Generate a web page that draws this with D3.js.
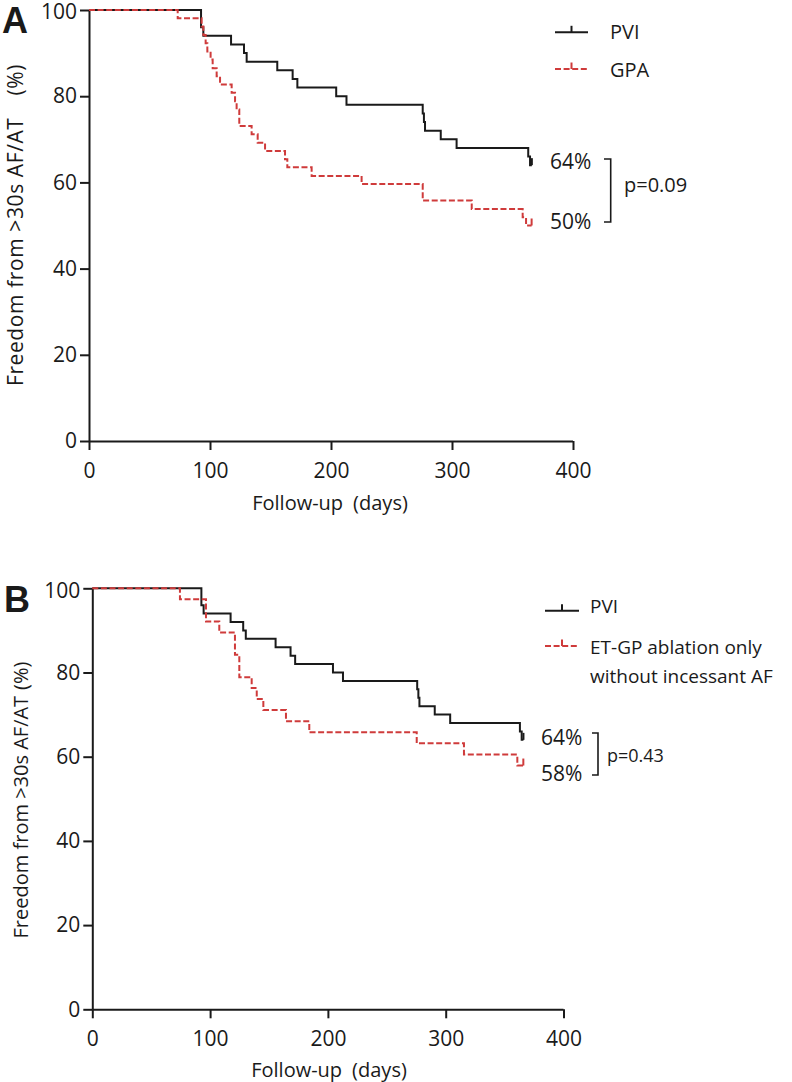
<!DOCTYPE html>
<html><head><meta charset="utf-8">
<script src="https://cdn.jsdelivr.net/npm/d3@7"></script>
<style>
html,body{margin:0;padding:0;background:#fff;}
svg text{font-family:"Open Sans","Noto Sans",sans-serif;fill:#1a1a1a;}
</style></head>
<body>
<svg id="chart" width="792" height="1082"></svg>
<script>
// ---------- DATA ----------
const xTicks = [0, 100, 200, 300, 400];
const yTicks = [0, 20, 40, 60, 80, 100];

// PVI (same cohort in both panels)
const pviTimes = [0, 92.6, 94.5, 117.4, 128.1, 130.3, 155.6, 168.3, 172.2, 204.3, 212.8, 275.8, 276.8, 277.7, 290.7, 303.8, 363.0, 364.5];
const pviSurv  = [100, 96, 94, 92, 90, 88, 86, 84, 82, 80, 78, 76, 74, 72, 70, 68, 66, 64];
const pviEnd = 366;

// GPA (panel A)
const gpaTimes = [0, 73.3, 93.1, 94.5, 96.4, 97.8, 100.5, 102.2, 105.5, 108.3, 117.9, 120.7, 122.0, 124.2, 134.4, 139.4, 145.5, 162.0, 163.9, 184.0, 225.3, 275.8, 316.3, 358.4, 361.2];
const gpaSurv  = [100, 98.1, 96.2, 94.2, 92.3, 90.4, 88.5, 86.5, 84.6, 82.7, 80.8, 78.8, 76.9, 73.1, 71.2, 69.2, 67.3, 65.4, 63.5, 61.5, 59.6, 55.8, 53.8, 51.9, 50.0];
const gpaEnd = 365.8;

// ET-GP ablation only without incessant AF (panel B)
const etgpTimes = [0, 74.4, 96.5, 107.8, 121.1, 124.8, 135.3, 139.6, 145.2, 164.4, 184.2, 275.4, 315.5, 360.8];
const etgpSurv  = [100, 97.4, 92.1, 89.5, 84.2, 78.9, 76.3, 73.7, 71.1, 68.4, 65.8, 63.2, 60.5, 57.9];
const etgpEnd = 365.9;

const panelALegend = ["PVI", "GPA"];
const panelBLegend = ["PVI", ["ET-GP ablation only", "without incessant AF"]];
const panelAEndLabels = ["64%", "50%"];
const panelBEndLabels = ["64%", "58%"];
const panelAP = "p=0.09";
const panelBP = "p=0.43";
const yTitleMain = "Freedom from >30s AF/AT";
const yTitleUnit = "(%)";
const xTitleMain = "Follow-up";
const xTitleUnit = "(days)";

// ---------- DRAW ----------
const svg = d3.select("#chart");
const BLACK = "#1a1a1a", RED = "#cf3b3b", DASH = "6,2.6";

function series(times, surv, end) {
  const pts = times.map((t, i) => ({t, s: surv[i]}));
  pts.push({t: end, s: surv[surv.length - 1]});
  return pts;
}

function panel(cfg) {
  const x = d3.scaleLinear().domain([0, 400]).range(cfg.xr);
  const y = d3.scaleLinear().domain([0, 100]).range(cfg.yr);
  const g = svg.append("g");

  const xa = g.append("g").attr("transform", `translate(0,${cfg.yr[0]})`)
    .call(d3.axisBottom(x).tickValues(xTicks).tickSize(9).tickPadding(13).tickSizeOuter(0));
  const ya = g.append("g").attr("transform", `translate(${cfg.xr[0]},0)`)
    .call(d3.axisLeft(y).tickValues(yTicks).tickSize(9).tickPadding(3).tickSizeOuter(0));
  [xa, ya].forEach(a => {
    a.selectAll("path,line").attr("stroke", BLACK).attr("stroke-width", 2);
    a.selectAll("text").attr("font-size", 21).attr("fill", "#1a1a1a")
      .style("font-family", '"Open Sans","Noto Sans",sans-serif');
  });
  ya.select(".domain").attr("d", `M0.5,${cfg.yr[0]}V${cfg.yr[1]}`);
  xa.select(".domain").attr("d", `M${cfg.xr[0]},0.5H${cfg.xr[1]}`);
  ya.selectAll(".tick text").filter(d => d === 100).attr("dy", "0.42em");

  const line = d3.line().x(d => x(d.t)).y(d => y(d.s)).curve(d3.curveStepAfter);
  cfg.curves.forEach(c => {
    const pts = series(c.times, c.surv, c.end);
    g.append("path").attr("d", line(pts)).attr("fill", "none")
      .attr("stroke", c.color).attr("stroke-width", 2)
      .attr("stroke-dasharray", c.dash || null);
    const last = pts[pts.length - 1];
    g.append("line").attr("x1", x(last.t)).attr("x2", x(last.t))
      .attr("y1", y(last.s)).attr("y2", y(last.s) - 7)
      .attr("stroke", c.color).attr("stroke-width", 2);
  });

  // panel letter
  g.append("text").attr("x", cfg.letterPos[0]).attr("y", cfg.letterPos[1])
    .text(cfg.letter).attr("font-size", 36).attr("font-weight", "bold")
    .style("font-family", '"Liberation Sans",Arial,sans-serif');

  // y title
  const yt = g.append("text")
    .attr("transform", `translate(${cfg.yTitle[0]},${cfg.yTitle[1]}) rotate(-90)`)
    .attr("text-anchor", "middle").attr("font-size", cfg.yTitleSize)
    .attr("letter-spacing", cfg.yTitleLS);
  yt.append("tspan").text(yTitleMain);
  yt.append("tspan").attr("dx", cfg.yTitleGap).text(yTitleUnit);

  // x title
  const xt = g.append("text").attr("x", cfg.xTitle[0]).attr("y", cfg.xTitle[1])
    .attr("text-anchor", "middle").attr("font-size", 20);
  xt.append("tspan").text(xTitleMain);
  xt.append("tspan").attr("dx", 10).text(xTitleUnit);

  // legend
  cfg.legend.forEach((lg, i) => {
    const ly = cfg.legendY[i];
    g.append("line").attr("x1", cfg.legendX[0]).attr("x2", cfg.legendX[1])
      .attr("y1", ly).attr("y2", ly).attr("stroke", lg.color).attr("stroke-width", 2)
      .attr("stroke-dasharray", lg.dash || null);
    const mx = (cfg.legendX[0] + cfg.legendX[1]) / 2;
    g.append("line").attr("x1", mx).attr("x2", mx).attr("y1", ly).attr("y2", ly - 6.5)
      .attr("stroke", lg.color).attr("stroke-width", 2);
    const labels = Array.isArray(lg.label) ? lg.label : [lg.label];
    labels.forEach((t, j) => {
      g.append("text").attr("x", cfg.legendTextX).attr("y", cfg.legendTextY[i] + j * cfg.legendLineH)
        .attr("font-size", cfg.legendSize).text(t);
    });
  });

  // end labels + bracket
  cfg.endLabels.forEach((t, i) => {
    g.append("text").attr("x", cfg.endX).attr("y", cfg.endY[i]).attr("font-size", 21).text(t);
  });
  const b = cfg.bracket;
  g.append("path").attr("d", `M${b.x0},${b.y0}H${b.x1}V${b.y1}H${b.x0}`)
    .attr("fill", "none").attr("stroke", BLACK).attr("stroke-width", 1.6);
  g.append("text").attr("x", cfg.pPos[0]).attr("y", cfg.pPos[1]).attr("font-size", cfg.pSize).text(cfg.p);
}

panel({
  xr: [89, 573], yr: [441, 10], letter: "A", letterPos: [2, 33],
  yTitle: [23, 225], yTitleSize: 21, yTitleLS: 0.6, yTitleGap: 22,
  xTitle: [330, 510],
  curves: [
    {times: pviTimes, surv: pviSurv, end: pviEnd, color: BLACK},
    {times: gpaTimes, surv: gpaSurv, end: gpaEnd, color: RED, dash: DASH}
  ],
  legend: [{label: panelALegend[0], color: BLACK}, {label: panelALegend[1], color: RED, dash: DASH}],
  legendX: [555, 588], legendY: [32.3, 69], legendTextX: 610, legendTextY: [38.5, 76.5], legendLineH: 0, legendSize: 20,
  endLabels: panelAEndLabels, endX: 550, endY: [169, 229],
  bracket: {x0: 604, x1: 610.7, y0: 159, y1: 222},
  p: panelAP, pPos: [624, 192], pSize: 20
});

panel({
  xr: [92.3, 563.5], yr: [1009.3, 588.3], letter: "B", letterPos: [4, 612],
  yTitle: [28, 800], yTitleSize: 20, yTitleLS: 0, yTitleGap: 6,
  xTitle: [329, 1077],
  curves: [
    {times: pviTimes, surv: pviSurv, end: pviEnd, color: BLACK},
    {times: etgpTimes, surv: etgpSurv, end: etgpEnd, color: RED, dash: DASH}
  ],
  legend: [{label: panelBLegend[0], color: BLACK}, {label: panelBLegend[1], color: RED, dash: DASH}],
  legendX: [545, 579], legendY: [610.7, 646], legendTextX: 590, legendTextY: [613, 654], legendLineH: 29, legendSize: 19,
  endLabels: panelBEndLabels, endX: 541, endY: [745, 781],
  bracket: {x0: 592, x1: 598, y0: 733, y1: 775},
  p: panelBP, pPos: [607, 762], pSize: 18
});
</script>
</body></html>
